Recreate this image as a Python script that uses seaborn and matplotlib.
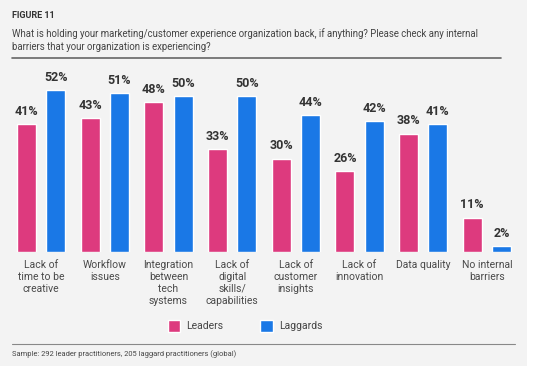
import matplotlib
matplotlib.use("Agg")
import pandas as pd
import seaborn as sns
import matplotlib.pyplot as plt
from matplotlib.patches import Rectangle
from matplotlib.lines import Line2D

categories = ["Lack of\ntime to be\ncreative", "Workflow\nissues", "Integration\nbetween\ntech\nsystems",
              "Lack of\ndigital\nskills/\ncapabilities", "Lack of\ncustomer\ninsights", "Lack of\ninnovation",
              "Data quality", "No internal\nbarriers"]
leaders = [41, 43, 48, 33, 30, 26, 38, 11]
laggards = [52, 51, 50, 50, 44, 42, 41, 2]
groups = ["Leaders", "Laggards"]

df = pd.DataFrame({
    "category": categories * 2,
    "value": leaders + laggards,
    "group": [groups[0]] * len(categories) + [groups[1]] * len(categories),
})

sns.set_theme(style="white")
plt.rcParams["font.family"] = ["Roboto", "DejaVu Sans"]

W, H = 537, 371
fig = plt.figure(figsize=(W / 100, H / 100), dpi=100)
fig.patch.set_facecolor("white")
fig.patches.append(Rectangle((0, 1 - 366 / H), 527 / W, 366 / H, transform=fig.transFigure,
                             facecolor="#f3f3f3", edgecolor="none", zorder=-5))

ax = fig.add_axes([8 / W, 1 - 252 / H, 512 / W, 182 / H])
ax.set_zorder(2)
ax.set_facecolor("none")
palette = {"Leaders": "#dd3a7e", "Laggards": "#1a78e6"}
sns.barplot(data=df, x="category", y="value", hue="group", palette=palette, width=0.92, gap=0.35,
            saturation=1, ax=ax, legend=False)
for c in ax.containers:
    ax.bar_label(c, labels=[f"{v:.0f}%" for v in c.datavalues], padding=4.5, fontsize=9,
                 fontweight="bold", color="#333333")
ax.set_xlim(-0.52, 7.52)
ax.set_ylim(0, 58.4)
ax.set_xlabel("")
ax.set_ylabel("")
ax.set_yticks([])
ax.tick_params(axis="x", length=0, pad=6, labelsize=7.5, labelcolor="#4a4a4a")
for lbl in ax.get_xticklabels():
    lbl.set_linespacing(1.22)
for s in ax.spines.values():
    s.set_visible(False)

fig.text(12 / W, 1 - 16 / H, "FIGURE 11", fontsize=6.5, fontweight="bold", color="#333333", va="center")
fig.text(12 / W, 1 - 40 / H,
         "What is holding your marketing/customer experience organization back, if anything? Please check any internal\n"
         "barriers that your organization is experiencing?",
         fontsize=6.9, color="#444444", va="center", linespacing=1.35)
fig.add_artist(Line2D([12 / W, 501 / W], [1 - 58 / H] * 2, transform=fig.transFigure, color="#666666", lw=1.2))
fig.add_artist(Line2D([12 / W, 515 / W], [1 - 344 / H] * 2, transform=fig.transFigure, color="#888888", lw=0.8))
fig.text(12 / W, 1 - 354 / H, "Sample: 292 leader practitioners, 205 laggard practitioners (global)",
         fontsize=5.4, color="#444444", va="center")

handles = [Rectangle((0, 0), 1, 1, facecolor=palette[g]) for g in groups]
fig.legend(handles, groups, loc="center", bbox_to_anchor=(245 / W, 1 - 326 / H), ncol=2, frameon=False,
           fontsize=7.5, handlelength=1.2, handleheight=1.3, columnspacing=3.5, handletextpad=0.6,
           labelcolor="#444444")

fig.savefig("out.png", dpi=100)
